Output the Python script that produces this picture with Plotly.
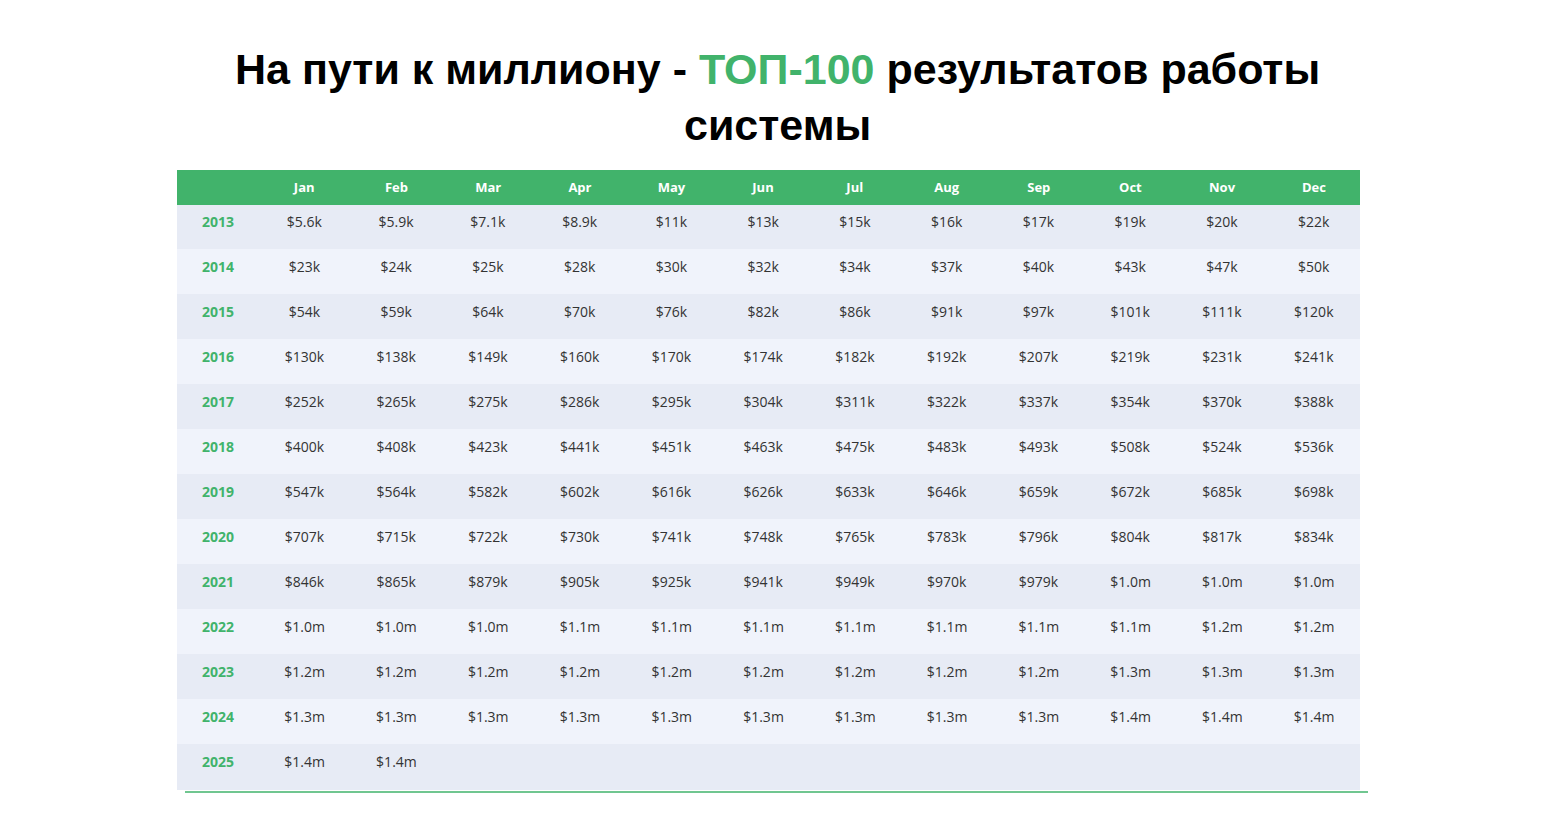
import plotly.graph_objects as go

months = ["Jan", "Feb", "Mar", "Apr", "May", "Jun", "Jul", "Aug", "Sep", "Oct", "Nov", "Dec"]
years = ["2013", "2014", "2015", "2016", "2017", "2018", "2019", "2020", "2021", "2022", "2023", "2024", "2025"]

y2013 = ["$5.6k", "$5.9k", "$7.1k", "$8.9k", "$11k", "$13k", "$15k", "$16k", "$17k", "$19k", "$20k", "$22k"]
y2014 = ["$23k", "$24k", "$25k", "$28k", "$30k", "$32k", "$34k", "$37k", "$40k", "$43k", "$47k", "$50k"]
y2015 = ["$54k", "$59k", "$64k", "$70k", "$76k", "$82k", "$86k", "$91k", "$97k", "$101k", "$111k", "$120k"]
y2016 = ["$130k", "$138k", "$149k", "$160k", "$170k", "$174k", "$182k", "$192k", "$207k", "$219k", "$231k", "$241k"]
y2017 = ["$252k", "$265k", "$275k", "$286k", "$295k", "$304k", "$311k", "$322k", "$337k", "$354k", "$370k", "$388k"]
y2018 = ["$400k", "$408k", "$423k", "$441k", "$451k", "$463k", "$475k", "$483k", "$493k", "$508k", "$524k", "$536k"]
y2019 = ["$547k", "$564k", "$582k", "$602k", "$616k", "$626k", "$633k", "$646k", "$659k", "$672k", "$685k", "$698k"]
y2020 = ["$707k", "$715k", "$722k", "$730k", "$741k", "$748k", "$765k", "$783k", "$796k", "$804k", "$817k", "$834k"]
y2021 = ["$846k", "$865k", "$879k", "$905k", "$925k", "$941k", "$949k", "$970k", "$979k", "$1.0m", "$1.0m", "$1.0m"]
y2022 = ["$1.0m", "$1.0m", "$1.0m", "$1.1m", "$1.1m", "$1.1m", "$1.1m", "$1.1m", "$1.1m", "$1.1m", "$1.2m", "$1.2m"]
y2023 = ["$1.2m", "$1.2m", "$1.2m", "$1.2m", "$1.2m", "$1.2m", "$1.2m", "$1.2m", "$1.2m", "$1.3m", "$1.3m", "$1.3m"]
y2024 = ["$1.3m", "$1.3m", "$1.3m", "$1.3m", "$1.3m", "$1.3m", "$1.3m", "$1.3m", "$1.3m", "$1.4m", "$1.4m", "$1.4m"]
y2025 = ["$1.4m", "$1.4m", "", "", "", "", "", "", "", "", "", ""]

rows = [y2013, y2014, y2015, y2016, y2017, y2018, y2019, y2020, y2021, y2022, y2023, y2024, y2025]

GREEN = "#41b36b"
fills = ["#e7ebf5" if i % 2 == 0 else "#f0f3fb" for i in range(len(years))]

columns = [["<b>%s</b>" % y for y in years]]
for m in range(len(months)):
    columns.append(["<span>%s</span>" % r[m] for r in rows])

x0, x1 = 169 / 1554, 1352 / 1554
fig = go.Figure(go.Table(
    domain=dict(x=[x0, x1], y=[0.0, 1 - 162 / 839]),
    columnwidth=[82] + [92] * 12,
    header=dict(values=[""] + ["<b>%s</b>" % m for m in months],
                fill_color=GREEN, line_color=GREEN, align="center", height=29,
                font=dict(family="Open Sans", size=13, color="white")),
    cells=dict(values=columns, align="center", height=45,
               fill_color=[fills] * 13, line_color=[fills] * 13,
               font=dict(family="Open Sans", size=14,
                         color=[GREEN] + ["#333333"] * 12)),
))

fig.add_shape(type="line", xref="paper", yref="paper",
              x0=177 / 1554, x1=1360 / 1554, y0=1 - 784 / 839, y1=1 - 784 / 839,
              line=dict(color=GREEN, width=1.5))

fig.add_annotation(
    text="<b>На пути к миллиону - <span style='color:%s'>ТОП-100</span> результатов работы<br>системы</b>" % GREEN,
    xref="paper", yref="paper", x=0.495, y=1 - 35 / 839, xanchor="center", yanchor="top",
    showarrow=False, align="center",
    font=dict(family="Liberation Sans", size=43, color="black"))

fig.update_layout(
    width=1554, height=839,
    margin=dict(l=0, r=0, t=0, b=0),
    paper_bgcolor="white",
)

fig.write_html("out.html")
